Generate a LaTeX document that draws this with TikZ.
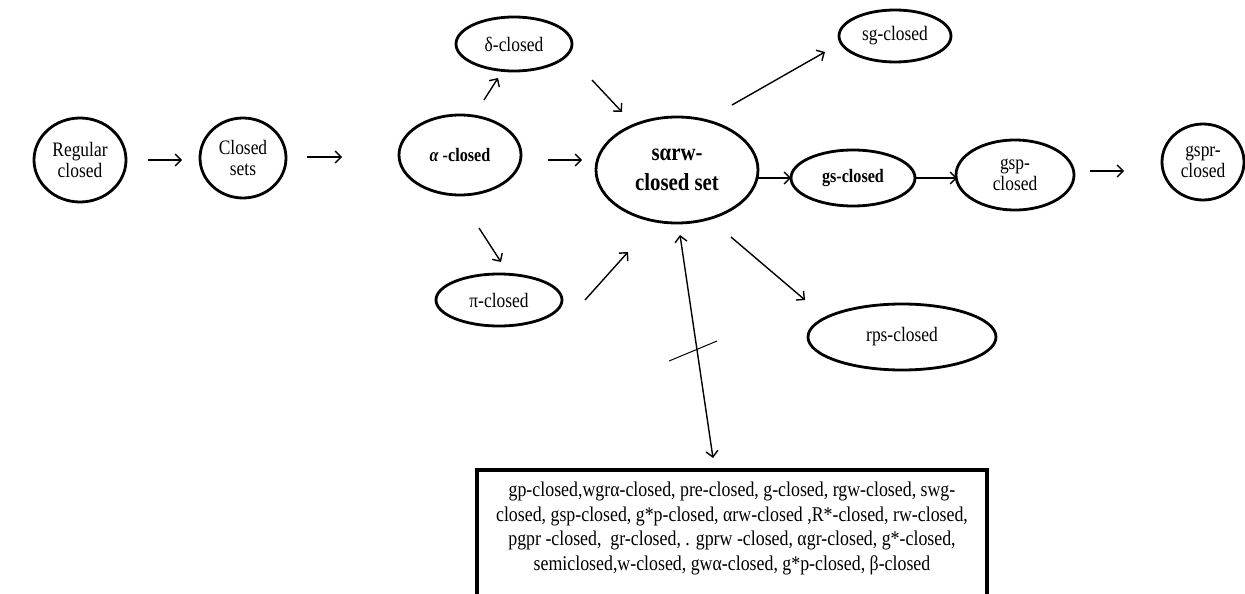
\documentclass[tikz,border=0pt]{standalone}
\usepackage{fontspec}
\setmainfont[FakeStretch=0.85]{Liberation Serif}
\usetikzlibrary{shapes.geometric,arrows.meta,calc}
\begin{document}
\begin{tikzpicture}[x=1pt,y=-1pt,
  ell/.style={draw, ellipse, line width=2.8pt, inner sep=0pt, align=center,
    font=\fontsize{20.5}{21}\selectfont},
  bell/.style={ell, font=\bfseries\fontsize{19}{21}\selectfont},
  arr/.style={line width=1.4pt, -{Straight Barb[length=6pt,width=12pt]}},
  darr/.style={line width=1.4pt, {Straight Barb[length=6pt,width=12pt]}-{Straight Barb[length=6pt,width=12pt]}},
  listbox/.style={draw, line width=4pt, outer sep=0pt, minimum width=510pt, align=center,
    inner ysep=12pt, text depth=60pt, font=\fontsize{21}{24.5}\selectfont}]
\useasboundingbox (0,0) rectangle (1245,594);
% nodes
\node[ell, minimum width=92pt, minimum height=84pt] (reg) at (80,160) {Regular\\closed};
\node[ell, minimum width=86pt, minimum height=80pt] (cls) at (243,158) {Closed\\sets};
\node[bell, minimum width=122pt, minimum height=80pt] (alpha) at (460,155) {{\itshape α} -closed};
\node[ell, minimum width=116pt, minimum height=54pt] (delta) at (514,44) {δ-closed};
\node[ell, minimum width=126pt, minimum height=52pt] (pi) at (499,300) {π-closed};
\node[ell, minimum width=162pt, minimum height=106pt, font=\bfseries\fontsize{24.5}{30}\selectfont] (sarw) at (677,170) {sαrw-\\closed set};
\node[ell, minimum width=112pt, minimum height=52pt] (sg) at (895,36) {sg-closed};
\node[bell, minimum width=124pt, minimum height=56pt] (gs) at (853,178) {gs-closed};
\node[ell, minimum width=118pt, minimum height=70pt] (gsp) at (1015,175) {gsp-\\closed};
\node[ell, minimum width=82pt, minimum height=76pt] (gspr) at (1203,162) {gspr-\\closed};
\node[ell, minimum width=188pt, minimum height=66pt] (rps) at (902,337) {rps-closed};
\node[listbox, anchor=north] (box) at (732,470) {gp-closed,wgrα-closed, pre-closed, g-closed, rgw-closed, swg-\\closed, gsp-closed, g*p-closed, αrw-closed ,R*-closed, rw-closed,\\pgpr -closed,\ \ gr-closed, . gprw -closed, αgr-closed, g*-closed,\\semiclosed,w-closed, gwα-closed, g*p-closed, β-closed};
% connectors
\draw[arr] ($(reg)+(68,0)$) -- ($(cls)+(-61,2)$);
\draw[arr] ($(cls)+(64,-1)$) -- ($(alpha)+(-118,2)$);
\draw[arr] ($(alpha)+(88,5)$) -- ($(sarw)+(-95,-10)$);
\draw[arr] ($(alpha)+(24,-55)$) -- ($(delta)+(-16,34)$);
\draw[arr] ($(delta)+(78,36)$) -- ($(sarw)+(-55,-58)$);
\draw[arr] ($(alpha)+(19,73)$) -- ($(pi)+(2,-38)$);
\draw[arr] ($(pi)+(86,0)$) -- ($(sarw)+(-49,82)$);
\draw[arr] ($(sarw)+(55,-65)$) -- ($(sg)+(-70,16)$);
\draw[arr] ($(sarw)+(81,8)$) -- ($(gs)+(-62,0)$);
\draw[arr] ($(gs)+(62,0)$) -- ($(gsp)+(-58,3)$);
\draw[arr] ($(gsp)+(75,-4)$) -- ($(gspr)+(-79,9)$);
\draw[arr] ($(sarw)+(54,67)$) -- ($(rps)+(-97,-37)$);
\draw[darr] ($(sarw)+(3,65)$) coordinate (d1) -- ($(box.north)+(-19,-12)$) coordinate (d2);
\draw[line width=1pt] ($(d1)!0.52!(d2)+(-28,10)$) -- ($(d1)!0.52!(d2)+(20,-10)$);
\end{tikzpicture}
\end{document}
